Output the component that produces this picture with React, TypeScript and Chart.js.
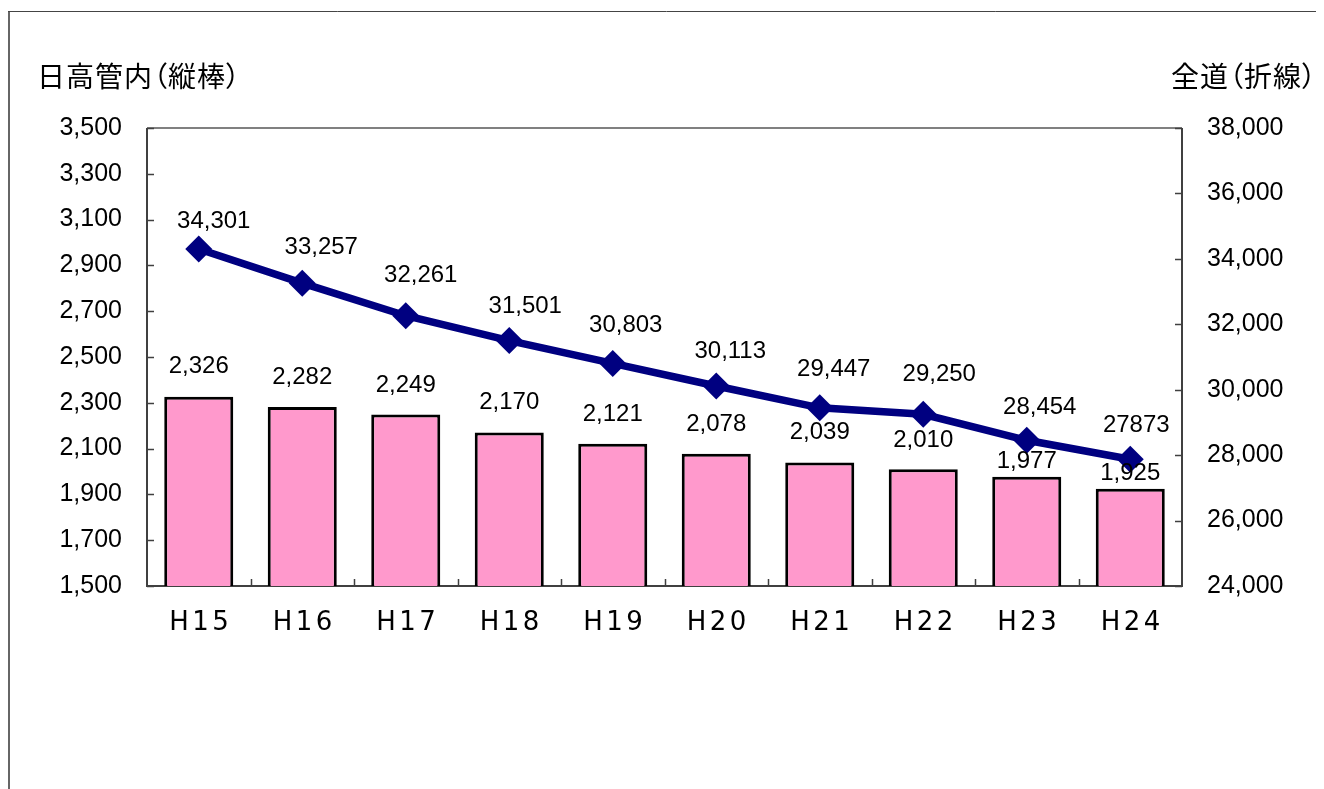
import React, { useEffect, useRef } from "react";
import { Chart, registerables } from "chart.js";

Chart.register(...registerables);

const categories = ["H15", "H16", "H17", "H18", "H19", "H20", "H21", "H22", "H23", "H24"];
const hidakaValues = [2326, 2282, 2249, 2170, 2121, 2078, 2039, 2010, 1977, 1925];
const hokkaidoValues = [34301, 33257, 32261, 31501, 30803, 30113, 29447, 29250, 28454, 27873];
const hidakaLabels = ["2,326", "2,282", "2,249", "2,170", "2,121", "2,078", "2,039", "2,010", "1,977", "1,925"];
const hokkaidoLabels = ["34,301", "33,257", "32,261", "31,501", "30,803", "30,113", "29,447", "29,250", "28,454", "27873"];
const leftTitle = "日高管内（縦棒）";
const rightTitle = "全道（折線）";

// label placement (layout only, in pixels)
const lineLabelShiftX = [15, 19, 15, 16, 13, 14, 14, 16, 13, 6];
const lineLabelRise = [28, 36, 40, 34, 38, 35, 38, 40, 33, 33.5];
const barLabelRise = [30, 29.5, 29, 30, 29.5, 29.5, 30, 29, 15.5, 15.5];

const W = 1316;
const H = 781;
const NUM_FONT = "'Liberation Sans', Arial, sans-serif";
const CAT_FONT = "'DejaVu Sans', sans-serif";
const CJK_FONT = "'Noto Sans CJK JP', sans-serif";

const decorPlugin = {
  id: "decor",
  beforeDraw(chart: any) {
    const ctx = chart.ctx;
    ctx.save();
    ctx.fillStyle = "#ffffff";
    ctx.fillRect(0, 0, chart.width, chart.height);
    ctx.strokeStyle = "#666666";
    ctx.lineWidth = 2;
    ctx.beginPath();
    ctx.moveTo(1, chart.height + 5);
    ctx.lineTo(1, 3.5);
    ctx.stroke();
    ctx.strokeStyle = "#444444";
    ctx.lineWidth = 1;
    ctx.beginPath();
    ctx.moveTo(0, 3.5);
    ctx.lineTo(chart.width + 5, 3.5);
    ctx.stroke();
    ctx.restore();
    (ctx as any).letterSpacing = "3.5px";
  },
  beforeDatasetsDraw(chart: any) {
    const ctx = chart.ctx;
    (ctx as any).letterSpacing = "0px";
    const a = chart.chartArea;
    const yL = chart.scales.y;
    const yR = chart.scales.y2;
    const x = chart.scales.x;
    ctx.save();
    ctx.strokeStyle = "#808080";
    ctx.lineWidth = 2;
    ctx.beginPath();
    ctx.moveTo(a.left, a.top);
    ctx.lineTo(a.right, a.top);
    ctx.stroke();
    ctx.strokeStyle = "#404040";
    ctx.lineWidth = 2;
    ctx.beginPath();
    ctx.moveTo(a.left, a.top);
    ctx.lineTo(a.left, a.bottom);
    ctx.lineTo(a.right, a.bottom);
    ctx.lineTo(a.right, a.top);
    ctx.stroke();
    ctx.lineWidth = 1.5;
    ctx.beginPath();
    yL.ticks.forEach((t: any) => {
      const py = Math.round(yL.getPixelForValue(t.value)) + 0.5;
      ctx.moveTo(a.left, py);
      ctx.lineTo(a.left + 7, py);
    });
    yR.ticks.forEach((t: any) => {
      const py = Math.round(yR.getPixelForValue(t.value)) + 0.5;
      ctx.moveTo(a.right, py);
      ctx.lineTo(a.right - 7, py);
    });
    for (let i = 1; i < categories.length; i++) {
      const px = Math.round((x.getPixelForTick(i - 1) + x.getPixelForTick(i)) / 2) + 0.5;
      ctx.moveTo(px, a.bottom);
      ctx.lineTo(px, a.bottom - 7);
    }
    ctx.stroke();
    ctx.restore();
  },
  afterDraw(chart: any) {
    const ctx = chart.ctx;
    (ctx as any).letterSpacing = "0px";
    ctx.save();
    ctx.fillStyle = "#000000";
    ctx.font = `24px ${NUM_FONT}`;
    ctx.textAlign = "center";
    ctx.textBaseline = "middle";
    const barMeta = chart.getDatasetMeta(0);
    barMeta.data.forEach((el: any, i: number) => {
      ctx.fillText(hidakaLabels[i], el.x, el.y - barLabelRise[i]);
    });
    const lineMeta = chart.getDatasetMeta(1);
    lineMeta.data.forEach((el: any, i: number) => {
      ctx.fillText(hokkaidoLabels[i], el.x + lineLabelShiftX[i], el.y - lineLabelRise[i]);
    });
    ctx.restore();
  },
};

const titleStyle: React.CSSProperties = {
  position: "absolute",
  top: 54,
  fontFamily: CJK_FONT,
  fontSize: 28,
  lineHeight: "27px",
  letterSpacing: "1px",
  whiteSpace: "nowrap",
  color: "#000",
  fontFeatureSettings: '"palt"',
};

export default function App() {
  const ref = useRef<HTMLCanvasElement | null>(null);
  useEffect(() => {
    if (!ref.current) return;
    const chart = new Chart(ref.current, {
      type: "bar",
      data: {
        labels: categories,
        datasets: [
          {
            type: "bar",
            label: "日高管内",
            data: hidakaValues,
            backgroundColor: "#FF99CC",
            borderColor: "#000000",
            borderWidth: 3,
            borderSkipped: false,
            categoryPercentage: 1,
            barPercentage: 0.667,
            yAxisID: "y",
            order: 2,
          } as any,
          {
            type: "line",
            label: "全道",
            data: hokkaidoValues,
            borderColor: "#000080",
            backgroundColor: "#000080",
            borderWidth: 7.5,
            pointStyle: "rectRot",
            pointRadius: 13.5,
            pointBorderWidth: 0,
            pointBackgroundColor: "#000080",
            tension: 0,
            yAxisID: "y2",
            order: 1,
          } as any,
        ],
      },
      options: {
        animation: false,
        responsive: false,
        devicePixelRatio: 1,
        layout: { padding: { top: 120, left: 0, right: 0, bottom: 0 } },
        plugins: { legend: { display: false }, tooltip: { enabled: false }, title: { display: false } },
        scales: {
          x: {
            type: "category",
            offset: true,
            grid: { display: false, drawTicks: false },
            border: { display: false },
            ticks: {
              font: { family: CAT_FONT, size: 26 },
              color: "#000000",
              padding: 22,
              maxRotation: 0,
              autoSkip: false,
              labelOffset: 2,
            },
            afterFit(s: any) {
              s.height = 203;
            },
          },
          y: {
            type: "linear",
            position: "left",
            min: 1500,
            max: 3500,
            grid: { display: false, drawTicks: false },
            border: { display: false },
            ticks: {
              stepSize: 200,
              font: { family: NUM_FONT, size: 25 },
              color: "#000000",
              padding: 25,
              z: 1,
              callback: (v: any) => Number(v).toLocaleString("en-US"),
            },
            afterFit(s: any) {
              s.width = 139;
            },
          },
          y2: {
            type: "linear",
            position: "right",
            min: 24000,
            max: 38000,
            grid: { display: false, drawTicks: false },
            border: { display: false },
            ticks: {
              stepSize: 2000,
              font: { family: NUM_FONT, size: 25 },
              color: "#000000",
              padding: 25,
              z: 1,
              callback: (v: any) => Number(v).toLocaleString("en-US"),
            },
            afterFit(s: any) {
              s.width = 142;
            },
          },
        },
      } as any,
      plugins: [decorPlugin],
    });
    return () => chart.destroy();
  }, []);
  return (
    <div style={{ position: "relative", width: W, height: H }}>
      <canvas ref={ref} width={W} height={H} style={{ display: "block", width: W, height: H }} />
      <div style={{ ...titleStyle, left: 29 }}>{leftTitle}</div>
      <div style={{ ...titleStyle, left: 1163 }}>{rightTitle}</div>
    </div>
  );
}
